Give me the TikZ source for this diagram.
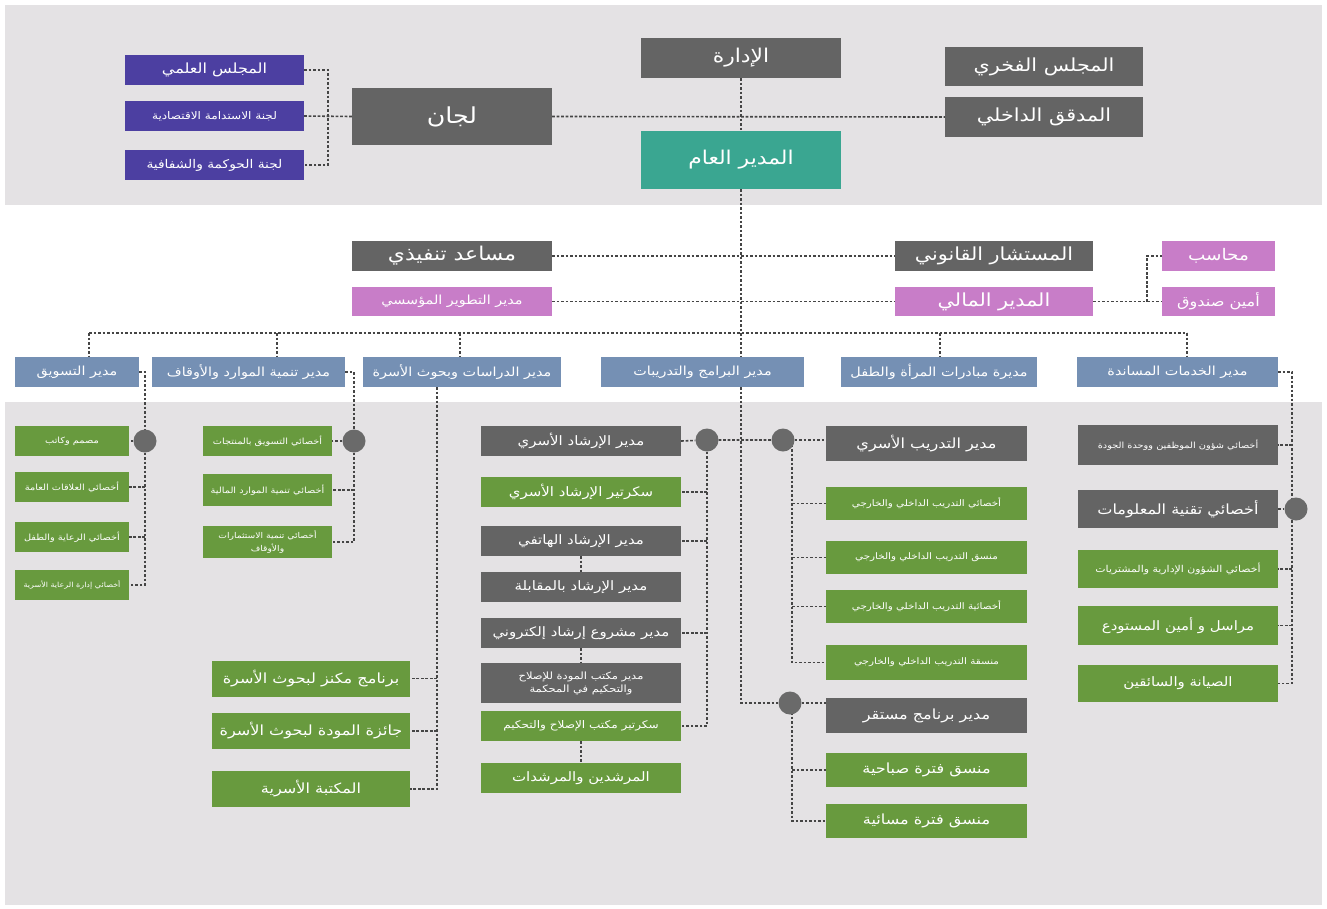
\documentclass[tikz,border=0pt]{standalone}
\usepackage{fontspec}
\newfontfamily\arabicfont[Script=Arabic,FakeStretch=1.15]{DejaVu Sans}
\TeXXeTstate=1
\usetikzlibrary{positioning}
\definecolor{boxgray}{HTML}{646464}
\definecolor{gmteal}{HTML}{3AA691}
\definecolor{indigo}{HTML}{4C3FA1}
\definecolor{pink}{HTML}{C87DC8}
\definecolor{steel}{HTML}{7590B4}
\definecolor{leaf}{HTML}{689A3E}
\definecolor{band}{HTML}{E4E2E4}
\definecolor{hubgray}{HTML}{6A6A6A}
\definecolor{linegray}{HTML}{454545}
\newcommand{\artxt}[1]{\beginR #1\endR}
\pgfdeclarelayer{bg}
\pgfsetlayers{bg,main}

\begin{document}
\begin{tikzpicture}[x=1pt,y=-1pt,
    box/.style={fill=#1,text=white,inner sep=1pt,align=center},
    wh/.style 2 args={minimum width=#1pt,minimum height=#2pt},
    fs/.style={font=\arabicfont\fontsize{#1}{13}\selectfont},
    link/.style={draw=linegray,line width=1.6pt,dash pattern=on 2.6pt off 1.9pt},
    hub/.style={circle,fill=hubgray,minimum size=23pt,inner sep=0pt}]
  \useasboundingbox (0,0) rectangle (1327,908);
  \begin{pgfonlayer}{bg}
    \fill[band] (5,5) rectangle (1322,205);
    \fill[band] (5,402) rectangle (1322,905);
  \end{pgfonlayer}
  % board and committees
  \node[box=boxgray,wh={200}{40},fs=19] (idara) at (741,58) {\artxt{الإدارة}};
  \node[box=boxgray,wh={198}{39},fs=18] (fakhri) at (1044,66.5) {\artxt{المجلس الفخري}};
  \node[box=boxgray,wh={198}{40},fs=18] (mudaqqiq) at (1044,117) {\artxt{المدقق الداخلي}};
  \node[box=gmteal,wh={200}{58},fs=19] (gm) at (741,160) {\artxt{المدير العام}};
  \node[box=boxgray,wh={200}{57},fs=22] (lijan) at (452,116.5) {\artxt{لجان}};
  \node[box=indigo,wh={179}{30},fs=14] (ilmi) at (214.5,70) {\artxt{المجلس العلمي}};
  \node[box=indigo,wh={179}{30},fs=10.5] (istidama) at (214.5,116) {\artxt{لجنة الاستدامة الاقتصادية}};
  \node[box=indigo,wh={179}{30},fs=12] (hawkama) at (214.5,165) {\artxt{لجنة الحوكمة والشفافية}};
  % staff of the general manager
  \node[box=boxgray,wh={200}{30},fs=19] (musaid) at (452,256) {\artxt{مساعد تنفيذي}};
  \node[box=pink,wh={200}{29},fs=12.5] (tatwir) at (452,301.5) {\artxt{مدير التطوير المؤسسي}};
  \node[box=boxgray,wh={198}{30},fs=18] (mustashar) at (994,256) {\artxt{المستشار القانوني}};
  \node[box=pink,wh={198}{29},fs=18] (mali) at (994,301.5) {\artxt{المدير المالي}};
  \node[box=pink,wh={113}{30},fs=16] (muhasib) at (1218.5,256) {\artxt{محاسب}};
  \node[box=pink,wh={113}{29},fs=14] (amin) at (1218.5,301.5) {\artxt{أمين صندوق}};
  % managers
  \node[box=steel,wh={124}{30},fs=12.5] (taswiq) at (77,372) {\artxt{مدير التسويق}};
  \node[box=steel,wh={193}{30},fs=12.5] (tanmiya) at (248.5,372) {\artxt{مدير تنمية الموارد والأوقاف}};
  \node[box=steel,wh={198}{30},fs=12.5] (dirasat) at (462,372) {\artxt{مدير الدراسات وبحوث الأسرة}};
  \node[box=steel,wh={203}{30},fs=12.5] (baramij) at (702.5,372) {\artxt{مدير البرامج والتدريبات}};
  \node[box=steel,wh={196}{30},fs=12.5] (mubadarat) at (939,372) {\artxt{مديرة مبادرات المرأة والطفل}};
  \node[box=steel,wh={201}{30},fs=12.5] (khadamat) at (1177.5,372) {\artxt{مدير الخدمات المساندة}};
  % marketing
  \node[box=leaf,wh={114}{30},fs=8.5] (a1) at (72,441) {\artxt{مصمم وكاتب}};
  \node[box=leaf,wh={114}{30},fs=8.5] (a2) at (72,487) {\artxt{أخصائي العلاقات العامة}};
  \node[box=leaf,wh={114}{30},fs=8.5] (a3) at (72,537) {\artxt{أخصائي الرعاية والطفل}};
  \node[box=leaf,wh={114}{30},fs=7] (a4) at (72,585) {\artxt{أخصائي إدارة الرعاية الأسرية}};
  \node[hub] (c1) at (145,441) {};
  % resources
  \node[box=leaf,wh={129}{30},fs=8.5] (b1) at (267.5,441) {\artxt{أخصائي التسويق بالمنتجات}};
  \node[box=leaf,wh={129}{32},fs=8.5] (b2) at (267.5,490) {\artxt{أخصائي تنمية الموارد المالية}};
  \node[box=leaf,wh={129}{32},fs=8] (b3) at (267.5,542) {\artxt{أخصائي تنمية الاستثمارات}\\\artxt{والأوقاف}};
  \node[hub] (c2) at (354,441) {};
  % studies
  \node[box=leaf,wh={198}{36},fs=14] (d1) at (311,678.5) {\artxt{برنامج مكنز لبحوث الأسرة}};
  \node[box=leaf,wh={198}{36},fs=14] (d2) at (311,731) {\artxt{جائزة المودة لبحوث الأسرة}};
  \node[box=leaf,wh={198}{36},fs=14] (d3) at (311,789) {\artxt{المكتبة الأسرية}};
  % counselling
  \node[box=boxgray,wh={200}{30},fs=13] (m1) at (581,441) {\artxt{مدير الإرشاد الأسري}};
  \node[box=leaf,wh={200}{30},fs=13] (m2) at (581,492) {\artxt{سكرتير الإرشاد الأسري}};
  \node[box=boxgray,wh={200}{30},fs=13] (m3) at (581,541) {\artxt{مدير الإرشاد الهاتفي}};
  \node[box=boxgray,wh={200}{30},fs=13] (m4) at (581,587) {\artxt{مدير الإرشاد بالمقابلة}};
  \node[box=boxgray,wh={200}{30},fs=13] (m5) at (581,633) {\artxt{مدير مشروع إرشاد إلكتروني}};
  \node[box=boxgray,wh={200}{40},fs=10] (m6) at (581,683) {\artxt{مدير مكتب المودة للإصلاح}\\\artxt{والتحكيم في المحكمة}};
  \node[box=leaf,wh={200}{30},fs=10.5] (m7) at (581,726) {\artxt{سكرتير مكتب الإصلاح والتحكيم}};
  \node[box=leaf,wh={200}{30},fs=13] (m8) at (581,778) {\artxt{المرشدين والمرشدات}};
  \node[hub] (c3) at (707,440) {};
  % training
  \node[box=boxgray,wh={201}{35},fs=14] (t1) at (926.5,443.5) {\artxt{مدير التدريب الأسري}};
  \node[box=leaf,wh={201}{33},fs=9] (t2) at (926.5,503.5) {\artxt{أخصائي التدريب الداخلي والخارجي}};
  \node[box=leaf,wh={201}{33},fs=9] (t3) at (926.5,557.5) {\artxt{منسق التدريب الداخلي والخارجي}};
  \node[box=leaf,wh={201}{33},fs=9] (t4) at (926.5,606.5) {\artxt{أخصائية التدريب الداخلي والخارجي}};
  \node[box=leaf,wh={201}{35},fs=9] (t5) at (926.5,662.5) {\artxt{منسقة التدريب الداخلي والخارجي}};
  \node[box=boxgray,wh={201}{35},fs=14] (t6) at (926.5,715.5) {\artxt{مدير برنامج مستقر}};
  \node[box=leaf,wh={201}{34},fs=14] (t7) at (926.5,770) {\artxt{منسق فترة صباحية}};
  \node[box=leaf,wh={201}{34},fs=14] (t8) at (926.5,821) {\artxt{منسق فترة مسائية}};
  \node[hub] (c4) at (783,440) {};
  \node[hub] (c5) at (790,703) {};
  % support services
  \node[box=boxgray,wh={200}{40},fs=8.5] (k1) at (1178,445) {\artxt{أخصائي شؤون الموظفين ووحدة الجودة}};
  \node[box=boxgray,wh={200}{38},fs=14] (k2) at (1178,509) {\artxt{أخصائي تقنية المعلومات}};
  \node[box=leaf,wh={200}{38},fs=9.5] (k3) at (1178,569) {\artxt{أخصائي الشؤون الإدارية والمشتريات}};
  \node[box=leaf,wh={200}{39},fs=13] (k4) at (1178,625.5) {\artxt{مراسل و أمين المستودع}};
  \node[box=leaf,wh={200}{37},fs=13] (k5) at (1178,683.5) {\artxt{الصيانة والسائقين}};
  \node[hub] (c6) at (1296,509) {};

  \begin{pgfonlayer}{bg}
    % top
    \draw[link] (idara.south) -- (gm.north);
    \draw[link] (lijan.east) -- (mudaqqiq.west);
    \coordinate (lj) at (328,116);
    \draw[link] (lijan.west) -- (istidama.east);
    \draw[link] (ilmi.east) -| (lj) |- (hawkama.east);
    % spine
    \draw[link] (gm.south) |- (c5);
    \draw[link] (musaid.east) -- (mustashar.west);
    \draw[link] (tatwir.east) -- (mali.west);
    \coordinate (fj) at (1147,301.5);
    \draw[link] (mali.east) -- (amin.west);
    \draw[link] (fj) |- (muhasib.west);
    % bus to managers
    \coordinate (busL) at (89,333);
    \coordinate (busR) at (1187,333);
    \draw[link] (busL) -- (busR);
    \foreach \m/\x in {taswiq/89,tanmiya/277,dirasat/460,mubadarat/940,khadamat/1187}{
      \coordinate (drop) at (\x,333);
      \draw[link] (drop) -- (drop |- \m.north);
    }
    % marketing
    \draw[link] (taswiq.east) -| (c1) |- (a4.east);
    \draw[link] (c1) -- (a1.east);
    \foreach \n in {a2,a3}
      \draw[link] (\n.east -| c1) -- (\n.east);
    % resources
    \draw[link] (tanmiya.east) -| (c2) |- (b3.east);
    \draw[link] (c2) -- (b1.east);
    \draw[link] (b2.east -| c2) -- (b2.east);
    % studies
    \coordinate (dd) at (437,387);
    \draw[link] (dd) |- (d3.east);
    \foreach \n in {d1,d2}
      \draw[link] (\n.east -| dd) -- (\n.east);
    % counselling
    \draw[link] (m1.east) -- (c3) -- (c4);
    \draw[link] (c3) |- (m7.east);
    \foreach \n in {m2,m3,m5}
      \draw[link] (\n.east -| c3) -- (\n.east);
    \draw[link] (m3.south) -- (m4.north);
    \draw[link] (m5.south) -- (m6.north);
    \draw[link] (m7.south) -- (m8.north);
    % training
    \coordinate (v4) at (792,440);
    \draw[link] (c4) -- (c4 -| t1.west);
    \draw[link] (v4) |- (t5.west);
    \foreach \n in {t2,t3,t4}
      \draw[link] (\n.west -| v4) -- (\n.west);
    \coordinate (v5) at (792,703);
    \draw[link] (c5) -- (c5 -| t6.west);
    \draw[link] (v5) |- (t8.west);
    \draw[link] (t7.west -| v5) -- (t7.west);
    % support services
    \coordinate (kv) at (1292,372);
    \draw[link] (khadamat.east) -- (kv) |- (k5.east);
    \draw[link] (k2.east) -- (c6);
    \foreach \n in {k1,k3,k4}
      \draw[link] (\n.east -| kv) -- (\n.east);
  \end{pgfonlayer}
\end{tikzpicture}
\end{document}
